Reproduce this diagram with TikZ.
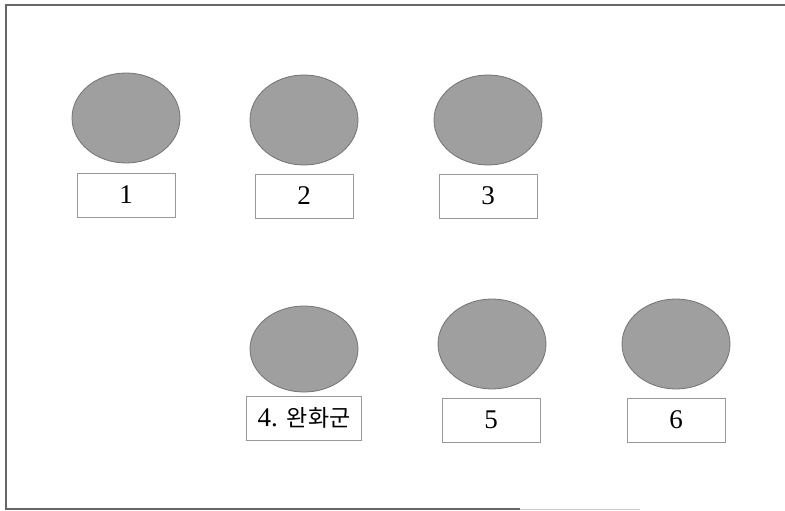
\documentclass[tikz,border=0pt]{standalone}
\usepackage{fontspec}
\setmainfont{Liberation Serif}
\newfontfamily\krfont{Noto Sans CJK KR}
\usetikzlibrary{shapes.geometric}
\begin{document}
\begin{tikzpicture}[x=1pt,y=-1pt,
  blob/.style={ellipse, draw=gray!90!black, line width=0.8pt, fill=gray!75, minimum width=108pt, minimum height=90pt, inner sep=0pt},
  label box/.style={rectangle, draw=gray!80, line width=0.9pt, fill=white, minimum width=98pt, minimum height=44pt, inner sep=0pt, font=\fontsize{27}{30}\selectfont},
  frame line/.style={draw=gray!80!black, line width=1.2pt}]
\useasboundingbox (0,0) rectangle (785,511);
\draw[frame line] (785,5) -- (6,5) -- (6,509) -- (520,509);
\draw[draw=gray!40, line width=1pt] (520,509) -- (640,509);
\node[blob] (e1) at (126,118) {};
\node[blob] (e2) at (304,120) {};
\node[blob] (e3) at (488,120) {};
\node[blob, minimum height=86pt] (e4) at (304,349) {};
\node[blob] (e5) at (492,344) {};
\node[blob] (e6) at (676,344) {};
\node[label box] (b1) at (126,195) {1};
\node[label box] (b2) at (304,196) {2};
\node[label box] (b3) at (488,196) {3};
\node[label box, minimum width=115pt] (b4) at (304,418) {4. {\krfont\fontsize{23}{26}\selectfont 완화군}};
\node[label box] (b5) at (491,420) {5};
\node[label box] (b6) at (676,420) {6};
\end{tikzpicture}
\end{document}
